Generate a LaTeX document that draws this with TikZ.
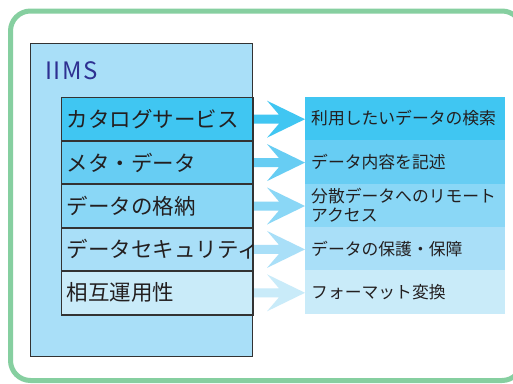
\documentclass[tikz,border=0pt]{standalone}
\usepackage{fontspec}
\setmainfont{Noto Sans CJK JP}
\usetikzlibrary{calc}
\definecolor{framegreen}{HTML}{86CFA0}
\definecolor{iimsblue}{HTML}{2E3192}
\definecolor{textblack}{HTML}{231F20}
\definecolor{rowA}{HTML}{40C6F2}
\definecolor{rowB}{HTML}{67CDF3}
\definecolor{rowC}{HTML}{8AD7F6}
\definecolor{rowD}{HTML}{A9DFF8}
\definecolor{rowE}{HTML}{C9EBF9}
\definecolor{boxline}{HTML}{333333}
\tikzset{
  leftrow/.style={draw=boxline, line width=1pt, anchor=north west,
    minimum width=191pt, minimum height=43.4pt, text width=181pt,
    inner xsep=5pt, inner ysep=0pt, align=left, font=\fontsize{21.5}{24}\selectfont,
    text=textblack},
  rightrow/.style={anchor=north west, minimum width=200pt, minimum height=43.4pt,
    text width=188pt, inner xsep=6pt, inner ysep=0pt, align=left,
    font=\fontsize{16.8}{18.5}\selectfont, text=textblack},
}
\newcommand{\bigarrow}[3]{%
  \fill[#3] let \p1=(#1.east), \p2=(#2.west) in
    (\x1,\y1+4.5pt) -- (\x2-26pt,\y1+4.5pt) -- (\x2-38pt,\y1+18.5pt)
    -- (\x2,\y1) -- (\x2-38pt,\y1-18.5pt) -- (\x2-26pt,\y1-4.5pt)
    -- (\x1,\y1-4.5pt) -- cycle;}
\begin{document}
\begin{tikzpicture}[x=1pt,y=-1pt]
\clip (0,0) rectangle (513,383);
\fill[white] (0,0) rectangle (513,383);
\draw[framegreen, line width=5pt, rounded corners=20pt] (10.5,11) rectangle (522,380.5);
% IIMS box
\node[draw=boxline, line width=1pt, fill=rowD, anchor=north west,
  minimum width=222pt, minimum height=313pt, inner sep=0pt] (iims) at (30,43) {};
\node[anchor=base west, inner sep=0pt, text=iimsblue,
  font=\fontsize{24}{28}\selectfont] (iimstitle) at (45,79) {I\kern1.5pt I\kern1.5pt M\kern1.5pt S};
% right boxes
\node[rightrow, fill=rowA] (r1) at (305,96.5) {\raisebox{-3pt}{利用したいデータの検索}};
\node[rightrow, fill=rowB] (r2) at (305,139.9) {\raisebox{-3pt}{データ内容を記述}};
\node[rightrow, fill=rowC] (r3) at (305,183.3) {\raisebox{-2.5pt}{\parbox{188pt}{\baselineskip=18.5pt 分散データへのリモート\\アクセス}}};
\node[rightrow, fill=rowD] (r4) at (305,226.7) {\raisebox{-3pt}{データの保護・保障}};
\node[rightrow, fill=rowE] (r5) at (305,270.1) {\raisebox{-3pt}{フォーマット変換}};
% left rows
\path (61,97) node[leftrow, fill=rowA] (l1) {カタログサービス};
\path (61,140.4) node[leftrow, fill=rowB] (l2) {メタ・データ};
\path (61,183.8) node[leftrow, fill=rowC] (l3) {データの格納};
\path (61,227.2) node[leftrow, fill=rowD] (l4) {データセキュリティ};
\path (61,270.6) node[leftrow, fill=rowE] (l5) {相互運用性};
% arrows
\bigarrow{l1}{r1}{rowA}
\bigarrow{l2}{r2}{rowB}
\bigarrow{l3}{r3}{rowC}
\bigarrow{l4}{r4}{rowD}
\bigarrow{l5}{r5}{rowE}
% redraw left borders on top of arrow starts
\foreach \n in {l1,l2,l3,l4,l5} \draw[boxline, line width=1pt] (\n.north west) rectangle (\n.south east);
\end{tikzpicture}
\end{document}
